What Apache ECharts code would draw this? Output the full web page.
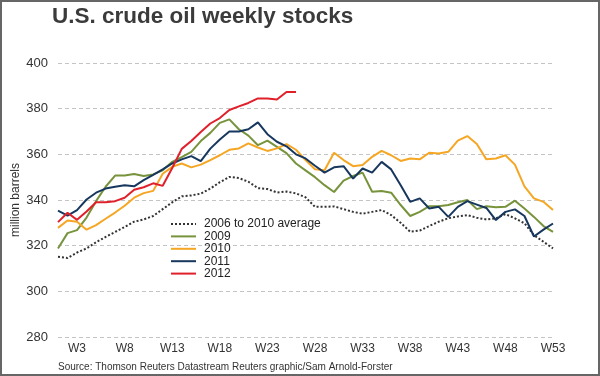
<!DOCTYPE html>
<html>
<head>
<meta charset="utf-8">
<script src="https://cdn.jsdelivr.net/npm/echarts@6/dist/echarts.min.js"></script>
<style>
  html, body { margin: 0; padding: 0; background: #fff; }
  #wrap { position: relative; width: 600px; height: 376px; }
  #chart { width: 600px; height: 376px; }
  #frame { position: absolute; left: 0; top: 0; width: 600px; height: 376px;
           box-sizing: border-box; border: 2px solid #666; pointer-events: none; }
</style>
</head>
<body>
<div id="wrap">
  <div id="chart"></div>
  <div id="frame"></div>
</div>
<script>
// weeks W1..W53
var weeks = [];
for (var i = 1; i <= 53; i++) weeks.push('W' + i);

// million barrels
var avg0610 = [315.1, 314.6, 317, 318.8, 321.5, 323.8, 326, 328.2, 330.5, 331.5,
  333, 336, 339, 341.6, 342, 342.8, 345, 347.8, 350.1, 349.6,
  348, 345.2, 344.8, 343.3, 343.7, 342.9, 341.2, 337, 337, 337.2,
  336, 334.8, 334, 334.8, 335.6, 333.4, 330, 326.1, 326.6, 328.6,
  330.5, 332, 332.8, 333.4, 332.2, 331.5, 332, 333.8, 332, 329.8,
  324.6, 321.7, 318.8];
var y2009 = [318.8, 325.5, 326.8, 332.3, 339.5, 345.8, 350.7, 350.7, 351.4, 350.5,
  351.2, 353, 356.7, 358.8, 361.1, 365.8, 369.4, 373.8, 375.3, 371,
  368.2, 364, 366, 363.3, 360.5, 356, 353, 350, 346.5, 343.5,
  348.5, 350.5, 352, 343.6, 343.9, 343.2, 337.8, 333, 334.8, 337.3,
  337.3, 337.8, 339, 340, 336, 337.3, 336.8, 337, 339.7, 336.3,
  332.6, 328.6, 326];
var y2010 = [327.8, 331, 330.5, 327, 329, 331.8, 334.5, 337.5, 341, 343,
  344, 351.5, 354.5, 356, 354.3, 355.5, 357.5, 359.6, 362, 362.6,
  364.8, 363, 361.5, 362.6, 364.5, 362, 357.5, 353.5, 353, 360.7,
  357.5, 354.8, 355.3, 358.9, 361.5, 359.6, 357.1, 358.2, 357.8, 360.7,
  360.4, 361.1, 366, 368, 364.5, 357.8, 358.2, 359.6, 355.5, 346,
  340.7, 339.2, 335.6];
var y2011 = [335.3, 333.2, 335.6, 340.2, 343.2, 345, 345.8, 346.5, 346, 348.7,
  351, 353.4, 356, 357.8, 359.2, 357, 362.5, 366.5, 370, 370,
  371, 374, 368.8, 365.5, 363.5, 360, 358.2, 355, 352, 354.3,
  354.8, 349.4, 353.8, 352, 356.7, 353.4, 346.5, 339.2, 340.7, 336.3,
  337, 332.6, 337, 339.5, 338, 336.5, 331.2, 334.8, 335.9, 333,
  324, 327, 329.7];
var y2012 = [330.3, 334.4, 331.3, 335, 339, 339, 339.5, 341, 344.5, 345.6,
  347.3, 346.2, 354, 362.4, 365.8, 369.8, 373.5, 375.9, 379.4, 381,
  382.5, 384.5, 384.5, 384, 387.3, 387.3];

var seriesNames = ['2006 to 2010 average', '2009', '2010', '2011', '2012'];
var yTicks = { min: 280, max: 400, step: 20 };

var font = '"Liberation Sans", Arial, sans-serif';
var myChart = echarts.init(document.getElementById('chart'));

function line(name, data, color, type) {
  return {
    name: name,
    type: 'line',
    data: data,
    symbol: 'none',
    smooth: false,
    lineStyle: { color: color, width: 2, type: type || 'solid' },
    itemStyle: { color: color },
    animation: false
  };
}

var option = {
  animation: false,
  title: {
    text: 'U.S. crude oil weekly stocks',
    left: 52,
    top: 5,
    padding: 0,
    textStyle: { fontFamily: font, fontSize: 22.5, fontWeight: 'bold', color: '#3b3b3b' }
  },
  grid: { left: 58, right: 47, top: 63, bottom: 39, outerBoundsMode: 'none' },
  legend: {
    orient: 'vertical',
    left: 165,
    top: 213,
    itemWidth: 25,
    itemHeight: 12,
    itemGap: 0.4,
    data: seriesNames,
    itemStyle: { opacity: 0 },
    textStyle: { fontFamily: font, fontSize: 12, color: '#222', padding: [0, 0, 0, 3] }
  },
  xAxis: {
    type: 'category',
    data: weeks,
    boundaryGap: false,
    axisLine: { show: false },
    axisTick: { show: false },
    axisLabel: {
      interval: function (index) { return index % 5 === 2; },
      margin: 6,
      fontFamily: font,
      fontSize: 12,
      color: '#333'
    },
    splitLine: { show: false }
  },
  yAxis: {
    type: 'value',
    min: yTicks.min,
    max: yTicks.max,
    interval: yTicks.step,
    axisLine: { show: false },
    axisTick: { show: false },
    axisLabel: { margin: 10, fontFamily: font, fontSize: 13, color: '#333' },
    splitLine: { show: true, lineStyle: { color: '#c4c4c4', type: [4, 3], width: 1 } }
  },
  graphic: [{
    type: 'text',
    x: 16,
    y: 200,
    rotation: Math.PI / 2,
    style: {
      text: 'million barrels',
      font: '12px ' + font,
      fill: '#333',
      align: 'center',
      verticalAlign: 'middle'
    }
  }, {
    type: 'text',
    left: 58,
    top: 362,
    style: {
      text: 'Source: Thomson Reuters Datastream Reuters graphic/Sam Arnold-Forster',
      font: '10px ' + font,
      fill: '#333'
    }
  }],
  series: [
    line(seriesNames[0], avg0610, '#333333', [2, 2]),
    line(seriesNames[1], y2009, '#77933c'),
    line(seriesNames[2], y2010, '#f5a623'),
    line(seriesNames[3], y2011, '#17375e'),
    line(seriesNames[4], y2012, '#e0202a')
  ]
};

myChart.setOption(option);
</script>
</body>
</html>
